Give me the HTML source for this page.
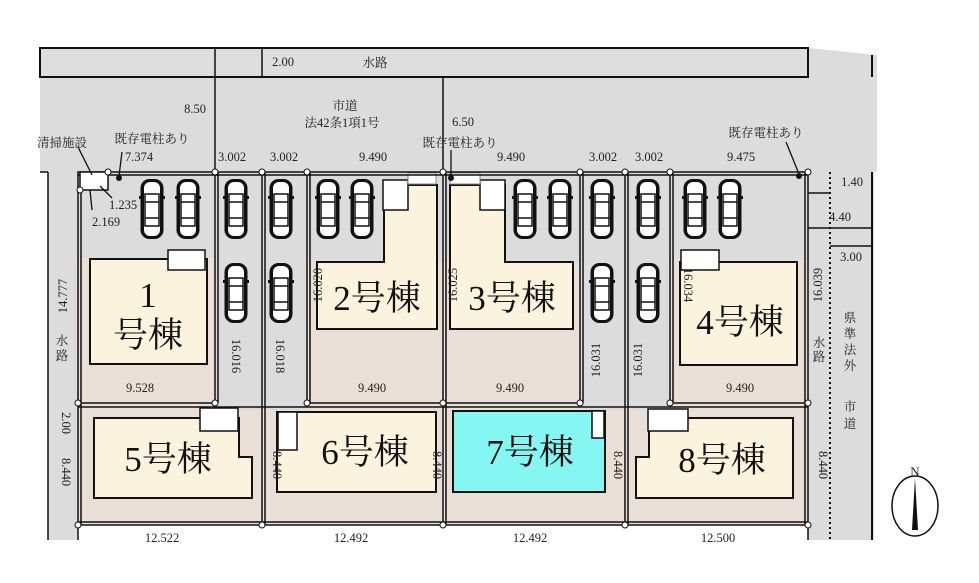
<!DOCTYPE html>
<html><head><meta charset="utf-8"><style>
html,body{margin:0;padding:0;background:#fff}
svg{display:block}
text{font-family:"Liberation Serif","Noto Serif CJK SC",serif;fill:#222}
.d{font-size:12.5px;text-anchor:middle}
.h{font-size:35px;text-anchor:middle;fill:#111}
</style></head><body>
<svg width="979" height="583" viewBox="0 0 979 583" xmlns="http://www.w3.org/2000/svg">
<defs>
<symbol id="car" viewBox="0 0 26 62">
<rect x="1.5" y="1" width="23" height="60" rx="9" fill="#111"/>
<rect x="5" y="4" width="16" height="54" rx="6" fill="#fff"/>
<rect x="6" y="16" width="14" height="8" fill="#fff" stroke="#111" stroke-width="1.5"/>
<rect x="6" y="40" width="14" height="8" fill="#fff" stroke="#111" stroke-width="1.5"/>
<line x1="6" y1="24" x2="6" y2="40" stroke="#111" stroke-width="1.5"/>
<line x1="20" y1="24" x2="20" y2="40" stroke="#111" stroke-width="1.5"/>
<rect x="0" y="18" width="3" height="3" fill="#111"/><rect x="23" y="18" width="3" height="3" fill="#111"/>
</symbol>
</defs>
<!-- road / water gray -->
<path d="M40 48 H808 L877 55 V172 H40 Z" fill="#dcdcdc"/>
<rect x="48" y="172" width="30" height="368" fill="#dcdcdc"/>
<rect x="808" y="172" width="66" height="368" fill="#dcdcdc"/>
<rect x="40" y="48" width="768" height="29" fill="#dedede" stroke="#111" stroke-width="2"/>
<path d="M872 55 V77" stroke="#111" stroke-width="2"/>
<line x1="48" y1="172" x2="48" y2="540" stroke="#111" stroke-width="1.5"/>
<line x1="40" y1="172" x2="48" y2="172" stroke="#111" stroke-width="1.5"/>
<line x1="872" y1="172" x2="872" y2="540" stroke="#111" stroke-width="2"/>
<line x1="830" y1="172" x2="830" y2="540" stroke="#111" stroke-width="2" stroke-dasharray="2 3"/>
<!-- lots -->
<rect x="78" y="172" width="730" height="353" fill="#e9dfd6"/>
<rect x="78" y="172" width="137" height="86" fill="#dcdcdc"/>
<rect x="215" y="172" width="92" height="238" fill="#dcdcdc"/>
<rect x="580" y="172" width="90" height="238" fill="#dcdcdc"/>
<rect x="307" y="172" width="136" height="90" fill="#dcdcdc"/>
<rect x="443" y="172" width="137" height="90" fill="#dcdcdc"/>
<rect x="670" y="172" width="138" height="88" fill="#dcdcdc"/>
<!-- houses -->
<rect x="90" y="259" width="117" height="105" fill="#fcf3de" stroke="#111" stroke-width="2"/>
<path d="M384 185 H437 V329 H317 V262 H384 Z" fill="#fcf3de" stroke="#111" stroke-width="2"/>
<path d="M450 185 H505 V262 H573 V329 H450 Z" fill="#fcf3de" stroke="#111" stroke-width="2"/>
<rect x="680" y="262" width="117" height="103" fill="#fcf3de" stroke="#111" stroke-width="2"/>
<path d="M94 418 H239 V457 H252 V498 H94 Z" fill="#fcf3de" stroke="#111" stroke-width="2"/>
<rect x="277" y="412" width="159" height="80" fill="#fcf3de" stroke="#111" stroke-width="2"/>
<rect x="453" y="411" width="152" height="81" fill="#86f6f2" stroke="#111" stroke-width="2"/>
<path d="M649 418 H793 V498 H636 V457 H649 Z" fill="#fcf3de" stroke="#111" stroke-width="2"/>
<!-- white boxes -->
<rect x="168" y="250" width="37" height="20" fill="#fff" stroke="#111" stroke-width="1.5"/>
<rect x="383" y="180" width="25" height="30" fill="#fff" stroke="#111" stroke-width="1.5"/>
<rect x="480" y="180" width="25" height="30" fill="#fff" stroke="#111" stroke-width="1.5"/>
<rect x="681" y="250" width="38" height="20" fill="#fff" stroke="#111" stroke-width="1.5"/>
<rect x="200" y="408" width="38" height="23" fill="#fff" stroke="#111" stroke-width="1.5"/>
<rect x="278" y="412" width="19" height="38" fill="#fff" stroke="#111" stroke-width="1.5"/>
<rect x="592" y="411" width="12" height="27" fill="#fff" stroke="#111" stroke-width="1.5"/>
<rect x="648" y="409" width="40" height="22" fill="#fff" stroke="#111" stroke-width="1.5"/>
<rect x="408" y="173" width="28" height="11" fill="#fff" stroke="#888" stroke-width="1"/>
<rect x="450" y="173" width="30" height="11" fill="#fff" stroke="#888" stroke-width="1"/>
<!-- boundaries -->
<g stroke="#111" stroke-width="1.5" fill="none">
<rect x="78" y="172" width="730" height="353"/>
<line x1="78" y1="175" x2="808" y2="175"/>
<line x1="78" y1="403" x2="215" y2="403"/><line x1="307" y1="403" x2="580" y2="403"/><line x1="670" y1="403" x2="808" y2="403"/>
<line x1="78" y1="407" x2="808" y2="407"/>
<line x1="78" y1="522" x2="808" y2="522"/>
<line x1="215" y1="172" x2="215" y2="403"/><line x1="218" y1="172" x2="218" y2="403"/>
<line x1="262" y1="172" x2="262" y2="525"/><line x1="265" y1="172" x2="265" y2="525"/>
<line x1="307" y1="172" x2="307" y2="403"/><line x1="310" y1="172" x2="310" y2="403"/>
<line x1="443" y1="172" x2="443" y2="525"/><line x1="446" y1="172" x2="446" y2="525"/>
<line x1="580" y1="172" x2="580" y2="403"/><line x1="583" y1="172" x2="583" y2="403"/>
<line x1="625" y1="172" x2="625" y2="525"/><line x1="628" y1="172" x2="628" y2="525"/>
<line x1="670" y1="172" x2="670" y2="403"/><line x1="673" y1="172" x2="673" y2="403"/>
<line x1="81" y1="172" x2="81" y2="525"/><line x1="805" y1="172" x2="805" y2="525"/>
<line x1="215" y1="48" x2="215" y2="172"/>
<line x1="262" y1="48" x2="262" y2="77"/>
<line x1="443" y1="77" x2="443" y2="172"/>
<line x1="808" y1="193" x2="830" y2="193"/><line x1="808" y1="228" x2="872" y2="228"/><line x1="830" y1="246" x2="872" y2="246"/>
<line x1="78" y1="525" x2="78" y2="540"/><line x1="808" y1="525" x2="808" y2="540"/>
<rect x="80" y="172" width="28" height="18" fill="#fff"/>
</g>
<g fill="#fff" stroke="#111" stroke-width="1">
<circle cx="80" cy="190" r="3"/><circle cx="108" cy="172" r="3"/><circle cx="215" cy="172" r="3"/><circle cx="262" cy="172" r="3"/><circle cx="307" cy="172" r="3"/><circle cx="443" cy="172" r="3"/><circle cx="580" cy="172" r="3"/><circle cx="625" cy="172" r="3"/><circle cx="670" cy="172" r="3"/><circle cx="808" cy="172" r="3"/>
<circle cx="78" cy="403" r="3"/><circle cx="215" cy="403" r="3"/><circle cx="307" cy="403" r="3"/><circle cx="443" cy="403" r="3"/><circle cx="580" cy="403" r="3"/><circle cx="670" cy="403" r="3"/><circle cx="808" cy="403" r="3"/>
<circle cx="78" cy="525" r="3"/><circle cx="262" cy="525" r="3"/><circle cx="443" cy="525" r="3"/><circle cx="625" cy="525" r="3"/><circle cx="808" cy="525" r="3"/>
</g>
<g fill="#111"><circle cx="119" cy="178" r="3"/><circle cx="451" cy="178" r="3"/><circle cx="799" cy="176" r="3"/></g>
<g stroke="#111" stroke-width="1.3"><line x1="122" y1="152" x2="119" y2="176"/><line x1="451" y1="150" x2="451" y2="176"/><line x1="786" y1="142" x2="799" y2="174"/><line x1="112" y1="198" x2="100" y2="186"/><line x1="92" y1="210" x2="90" y2="190"/><line x1="78" y1="147" x2="92" y2="175"/></g>
<!-- cars -->
<g>
<use href="#car" x="139" y="178" width="26" height="62"/><use href="#car" x="175" y="178" width="26" height="62"/>
<use href="#car" x="223" y="178" width="26" height="62"/><use href="#car" x="268" y="178" width="26" height="62"/>
<use href="#car" x="223" y="262" width="26" height="62"/><use href="#car" x="268" y="262" width="26" height="62"/>
<use href="#car" x="315" y="178" width="26" height="62"/><use href="#car" x="349" y="178" width="26" height="62"/>
<use href="#car" x="512" y="178" width="26" height="62"/><use href="#car" x="547" y="178" width="26" height="62"/>
<use href="#car" x="589" y="178" width="26" height="62"/><use href="#car" x="635" y="178" width="26" height="62"/>
<use href="#car" x="589" y="262" width="26" height="62"/><use href="#car" x="635" y="262" width="26" height="62"/>
<use href="#car" x="682" y="178" width="26" height="62"/><use href="#car" x="717" y="178" width="26" height="62"/>
</g>
<!-- house labels -->
<text class="h" x="148" y="307">1</text>
<text class="h" x="148" y="347">号棟</text>
<text class="h" x="377" y="310">2号棟</text>
<text class="h" x="512" y="310">3号棟</text>
<text class="h" x="740" y="334">4号棟</text>
<text class="h" x="168" y="471">5号棟</text>
<text class="h" x="365" y="464">6号棟</text>
<text class="h" x="530" y="464">7号棟</text>
<text class="h" x="722" y="472">8号棟</text>
<!-- labels -->
<g class="d">
<text x="283" y="66">2.00</text>
<text x="375" y="67">水路</text>
<text x="195" y="113">8.50</text>
<text x="345" y="110">市道</text>
<text x="342" y="127">法42条1項1号</text>
<text x="463" y="126">6.50</text>
<text x="62" y="147">清掃施設</text>
<text x="152" y="143">既存電柱あり</text>
<text x="460" y="147">既存電柱あり</text>
<text x="766" y="137">既存電柱あり</text>
<text x="139" y="161">7.374</text>
<text x="232" y="161">3.002</text>
<text x="284" y="161">3.002</text>
<text x="373" y="161">9.490</text>
<text x="511" y="161">9.490</text>
<text x="603" y="161">3.002</text>
<text x="649" y="161">3.002</text>
<text x="741" y="161">9.475</text>
<text x="123" y="209">1.235</text>
<text x="106" y="226">2.169</text>
<text x="852" y="186">1.40</text>
<text x="840" y="221">4.40</text>
<text x="851" y="261">3.00</text>
<text x="140" y="392">9.528</text>
<text x="372" y="392">9.490</text>
<text x="510" y="392">9.490</text>
<text x="740" y="392">9.490</text>
<text x="162" y="542">12.522</text>
<text x="351" y="542">12.492</text>
<text x="530" y="542">12.492</text>
<text x="718" y="542">12.500</text>
</g>
<g class="d">
<text transform="translate(67,296) rotate(-90)">14.777</text>
<text transform="translate(232,356) rotate(90)">16.016</text>
<text transform="translate(276,356) rotate(90)">16.018</text>
<text transform="translate(322,285) rotate(-90)">16.020</text>
<text transform="translate(457,285) rotate(-90)">16.025</text>
<text transform="translate(600,360) rotate(-90)">16.031</text>
<text transform="translate(642,360) rotate(-90)">16.031</text>
<text transform="translate(684,285) rotate(90)">16.034</text>
<text transform="translate(822,285) rotate(-90)">16.039</text>
<text transform="translate(62,423) rotate(90)">2.00</text>
<text transform="translate(62,472) rotate(90)">8.440</text>
<text transform="translate(273,465) rotate(90)">8.440</text>
<text transform="translate(433,465) rotate(90)">8.440</text>
<text transform="translate(614,465) rotate(90)">8.440</text>
<text transform="translate(819,465) rotate(90)">8.440</text>
</g>
<g class="d">
<text x="62" y="345">水</text><text x="62" y="360">路</text>
<text x="819" y="347">水</text><text x="819" y="361">路</text>
<text x="850" y="322">県</text><text x="850" y="338">準</text><text x="850" y="354">法</text><text x="850" y="370">外</text>
<text x="850" y="411">市</text><text x="850" y="428">道</text>
</g>
<!-- compass -->
<ellipse cx="915" cy="506" rx="23" ry="30" fill="#fff" stroke="#111" stroke-width="1.5"/>
<path d="M915 478 L918 530 L912 530 Z" fill="#111"/>
<text x="915" y="476" class="d" style="font-size:13px">N</text>
</svg>
</body></html>
